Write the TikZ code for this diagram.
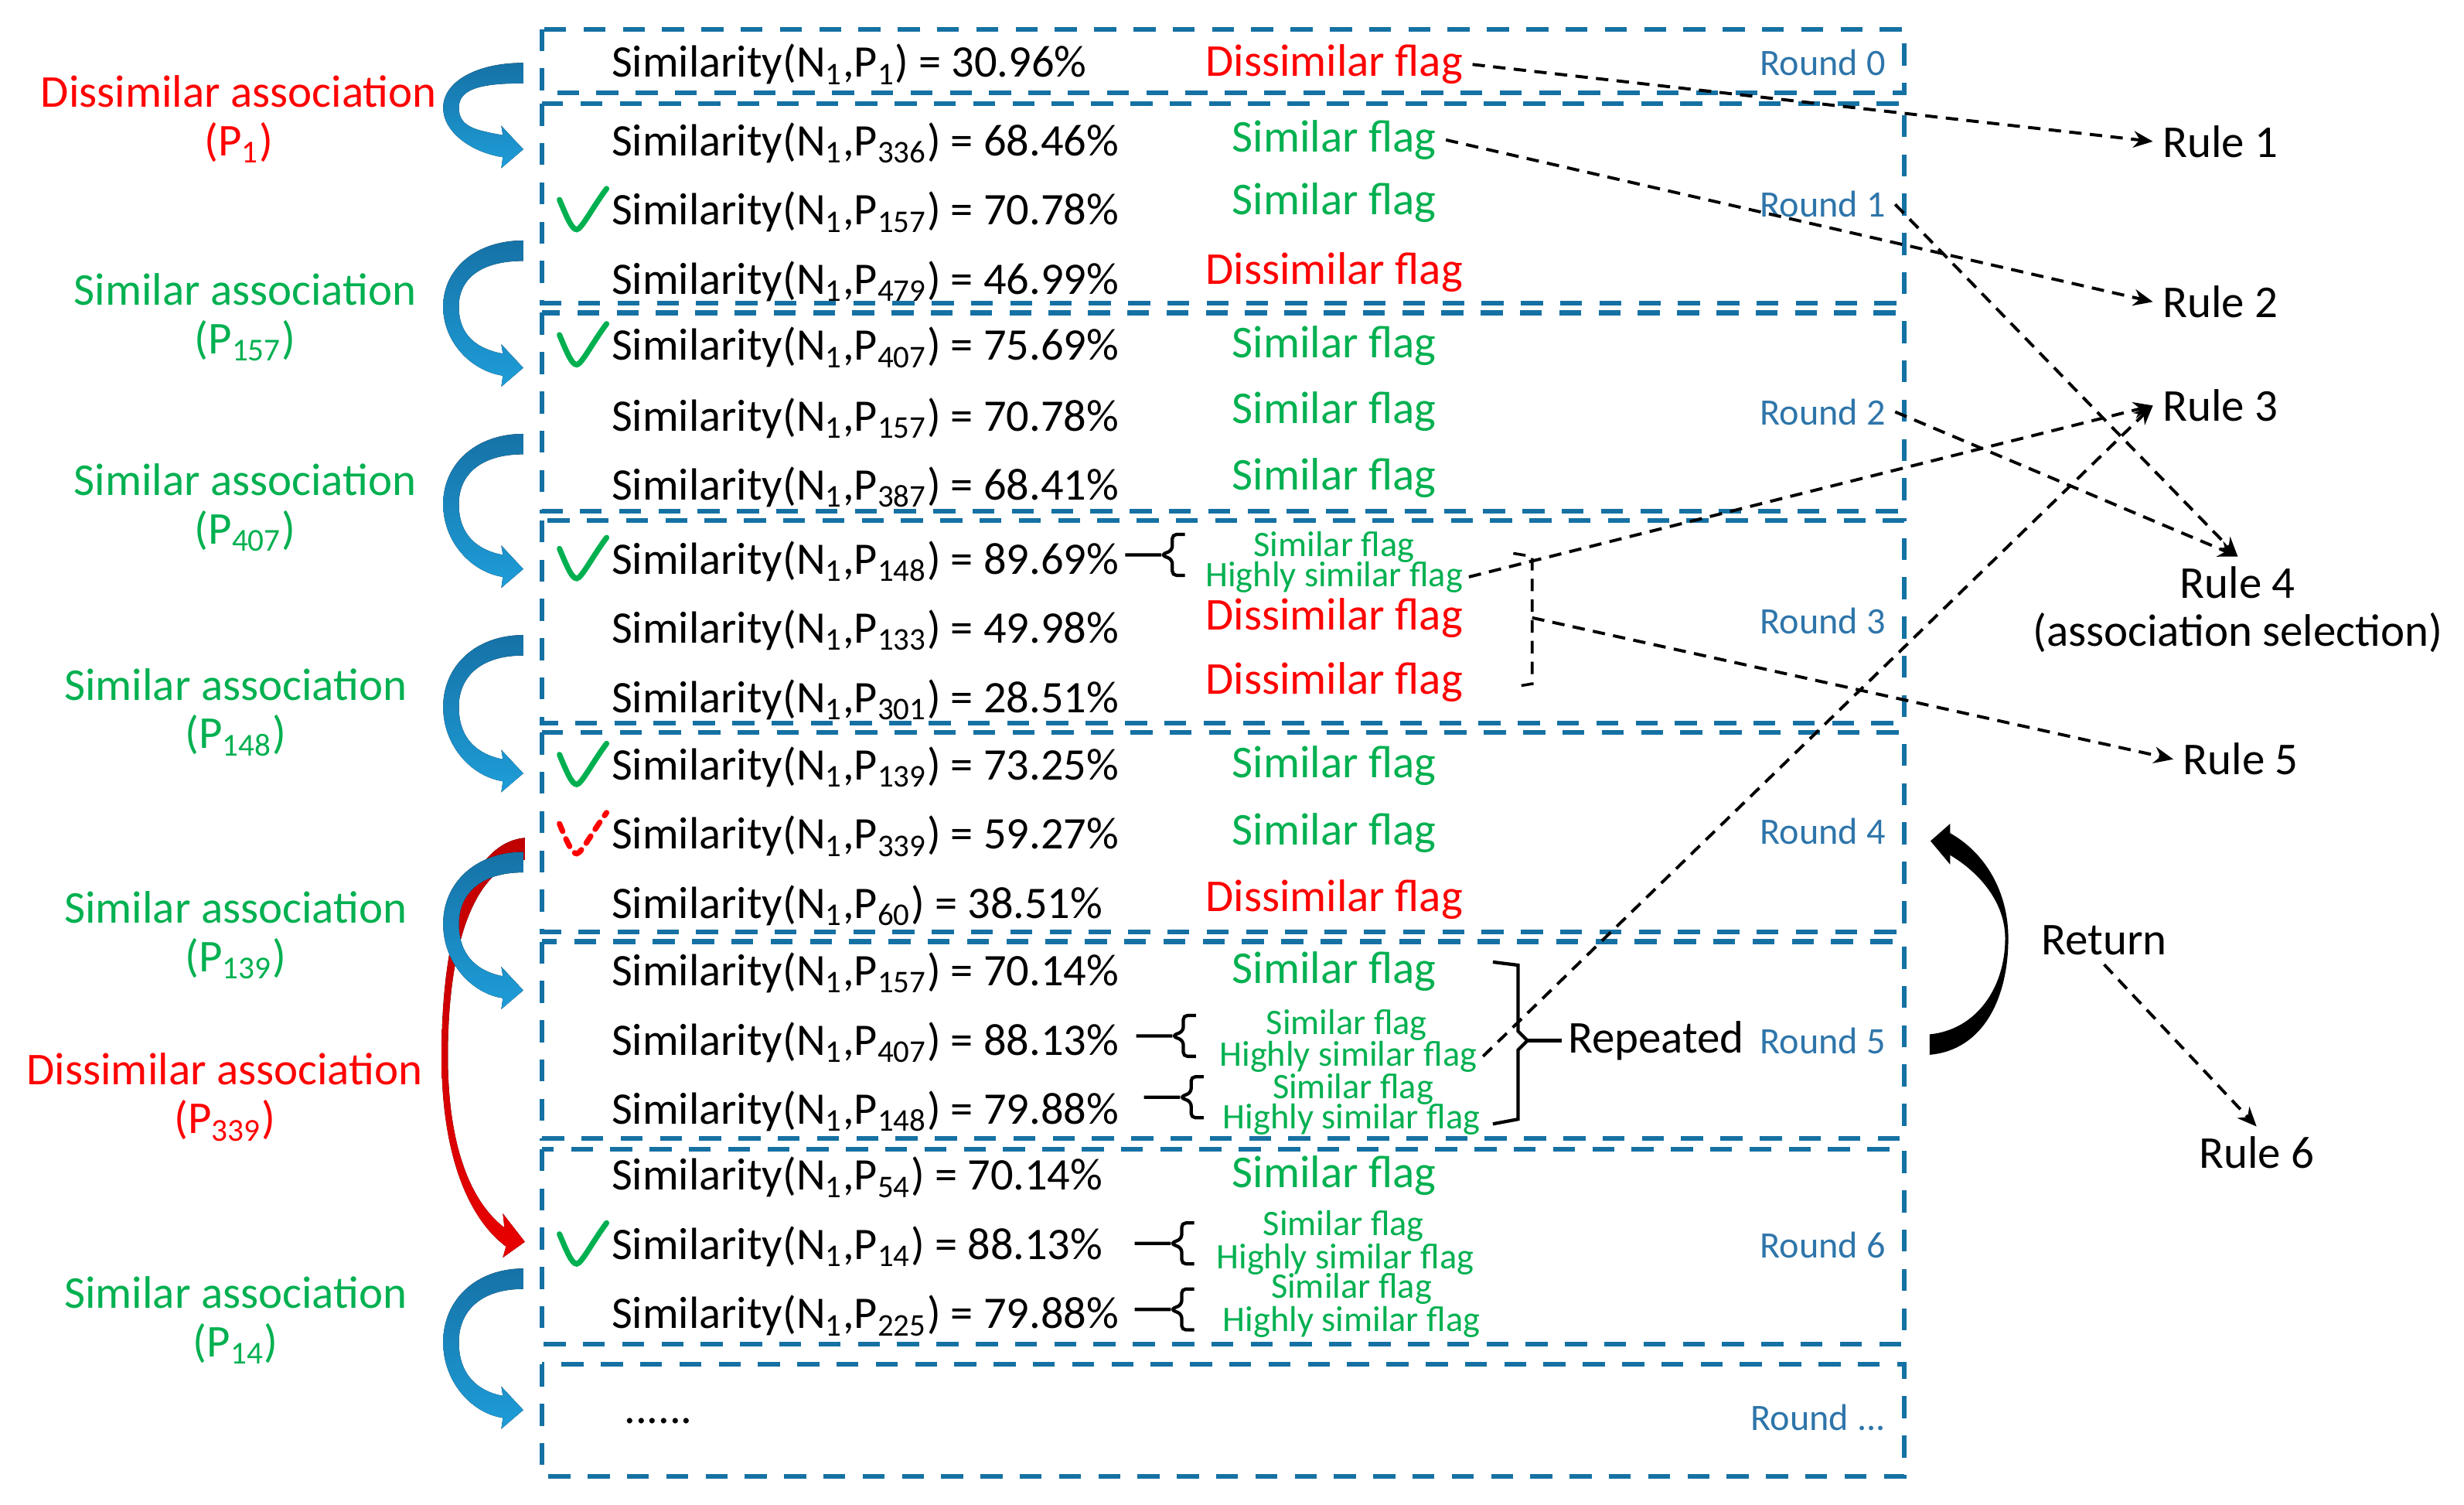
\documentclass[tikz,border=0pt]{standalone}
\usepackage{fontspec}
\setmainfont{Carlito}
\usetikzlibrary{arrows.meta}

\definecolor{boxblue}{RGB}{21,113,163}
\definecolor{roundblue}{RGB}{46,117,170}
\definecolor{simgreen}{RGB}{0,176,80}
\definecolor{dissred}{RGB}{255,0,0}
\definecolor{arrowtop}{RGB}{22,114,166}
\definecolor{arrowbot}{RGB}{30,157,216}
\definecolor{redtop}{RGB}{192,0,0}
\definecolor{redbot}{RGB}{232,0,0}

\newcommand{\simval}[2]{Similarity(N\textsubscript{1},P\textsubscript{#1}) = #2\%}

\tikzset{
  roundbox/.style={draw=boxblue, line width=1.7pt, dash pattern=on 0.28cm off 0.22cm},
  simrow/.style={anchor=west, font=\fontsize{16.35pt}{19pt}\selectfont},
  bigflag/.style={font=\fontsize{16.5pt}{19pt}\selectfont},
  simflag/.style={bigflag, text=simgreen},
  disflag/.style={bigflag, text=dissred},
  smallflag/.style={font=\fontsize{13pt}{15pt}\selectfont, text=simgreen, inner sep=2pt},
  roundlbl/.style={anchor=east, font=\fontsize{13.5pt}{16pt}\selectfont, text=roundblue},
  assoc/.style={align=center, font=\fontsize{16.5pt}{17.6pt}\selectfont},
  rulelbl/.style={font=\fontsize{16.5pt}{17.6pt}\selectfont},
  ruleline/.style={line width=1.1pt, dash pattern=on 4.5pt off 3pt, -{Stealth[length=7pt,width=6pt]}},
  flagbrace/.pic={\draw[line width=1.2pt, rounded corners=1.5pt] (0,0) -- (23,0) (38,-13) -- (30,-13) -- (30,-3) -- (23,0) -- (30,3) -- (30,13) -- (38,13);},
  chk/.pic={\draw[line width=2pt, line cap=round] (-16,-7) .. controls (-11,5) and (-8,12) .. (-5,12) .. controls (-2,12) and (5,-2) .. (14,-14);}
}

\begin{document}
\begin{tikzpicture}[x=0.02cm, y=-0.02cm]
\useasboundingbox (0,0) rectangle (1568,957);

\draw[roundbox] (345,18.5) rectangle (1212,59);
\draw[roundbox] (345,66) rectangle (1212,193);
\draw[roundbox] (345,199) rectangle (1212,325);
\draw[roundbox] (345,331) rectangle (1212,460);
\draw[roundbox] (345,466) rectangle (1212,593);
\draw[roundbox] (345,599) rectangle (1212,724);
\draw[roundbox] (345,731) rectangle (1212,855);
\draw[roundbox] (345,868) rectangle (1212,939);

\node[roundlbl] (rd0) at (1206,40) {Round 0};
\node[roundlbl] (rd1) at (1206,130) {Round 1};
\node[roundlbl] (rd2) at (1206,262) {Round 2};
\node[roundlbl] (rd3) at (1206,395) {Round 3};
\node[roundlbl] (rd4) at (1206,529) {Round 4};
\node[roundlbl] (rd5) at (1206,662) {Round 5};
\node[roundlbl] (rd6) at (1206,792) {Round 6};
\node[roundlbl] (rd7) at (1206,902) {Round ...};

\node[simrow] (s0) at (383,41) {\simval{1}{30.96}};
\node[simrow] (s11) at (383,91) {\simval{336}{68.46}};
\node[simrow] (s12) at (383,135) {\simval{157}{70.78}};
\node[simrow] (s13) at (383,179) {\simval{479}{46.99}};
\node[simrow] (s21) at (383,221) {\simval{407}{75.69}};
\node[simrow] (s22) at (383,266) {\simval{157}{70.78}};
\node[simrow] (s23) at (383,310) {\simval{387}{68.41}};
\node[simrow] (s31) at (383,357) {\simval{148}{89.69}};
\node[simrow] (s32) at (383,401) {\simval{133}{49.98}};
\node[simrow] (s33) at (383,445) {\simval{301}{28.51}};
\node[simrow] (s41) at (383,488) {\simval{139}{73.25}};
\node[simrow] (s42) at (383,532) {\simval{339}{59.27}};
\node[simrow] (s43) at (383,576) {\simval{60}{38.51}};
\node[simrow] (s51) at (383,619) {\simval{157}{70.14}};
\node[simrow] (s52) at (383,663) {\simval{407}{88.13}};
\node[simrow] (s53) at (383,707) {\simval{148}{79.88}};
\node[simrow] (s61) at (383,749) {\simval{54}{70.14}};
\node[simrow] (s62) at (383,793) {\simval{14}{88.13}};
\node[simrow] (s63) at (383,837) {\simval{225}{79.88}};
\node[simrow] (s7) at (391,904) {......};

\node[disflag] (f0) at (849,41) {Dissimilar flag};
\node[simflag] (f11) at (849,89) {Similar flag};
\node[simflag] (f12) at (849,129) {Similar flag};
\node[disflag] (f13) at (849,173) {Dissimilar flag};
\node[simflag] (f21) at (849,220) {Similar flag};
\node[simflag] (f22) at (849,262) {Similar flag};
\node[simflag] (f23) at (849,304) {Similar flag};
\node[smallflag] (h31a) at (849,348) {Similar flag};
\node[smallflag] (h31b) at (849,367) {Highly similar flag};
\node[disflag] (f32) at (849,393) {Dissimilar flag};
\node[disflag] (f33) at (849,434) {Dissimilar flag};
\node[simflag] (f41) at (849,487) {Similar flag};
\node[simflag] (f42) at (849,530) {Similar flag};
\node[disflag] (f43) at (849,572) {Dissimilar flag};
\node[simflag] (f51) at (849,618) {Similar flag};
\node[smallflag] (h52a) at (857,652) {Similar flag};
\node[smallflag] (h52b) at (858,672) {Highly similar flag};
\node[smallflag] (h53a) at (861,693) {Similar flag};
\node[smallflag] (h53b) at (860,712) {Highly similar flag};
\node[simflag] (f61) at (849,748) {Similar flag};
\node[smallflag] (h62a) at (855,780) {Similar flag};
\node[smallflag] (h62b) at (856,801) {Highly similar flag};
\node[smallflag] (h63a) at (860,820) {Similar flag};
\node[smallflag] (h63b) at (860,841) {Highly similar flag};

\pic at (716,353) {flagbrace};
\pic at (723,659) {flagbrace};
\pic at (728,698) {flagbrace};
\pic at (722,791) {flagbrace};
\pic at (722,833) {flagbrace};

\pic[color=simgreen] at (372,134) {chk};
\pic[color=simgreen] at (372,220) {chk};
\pic[color=simgreen] at (372,356) {chk};
\pic[color=simgreen] at (372,487) {chk};
\pic[color=simgreen] at (372,792) {chk};
\pic[color=dissred, dashed] at (372,531) {chk};

\node[assoc, text=dissred] (a1) at (152,76) {Dissimilar association\\(P\textsubscript{1})};
\node[assoc, text=simgreen] (a2) at (156,202) {Similar association\\(P\textsubscript{157})};
\node[assoc, text=simgreen] (a3) at (156,323) {Similar association\\(P\textsubscript{407})};
\node[assoc, text=simgreen] (a4) at (150,453) {Similar association\\(P\textsubscript{148})};
\node[assoc, text=simgreen] (a5) at (150,595) {Similar association\\(P\textsubscript{139})};
\node[assoc, text=dissred] (a6) at (143,698) {Dissimilar association\\(P\textsubscript{339})};
\node[assoc, text=simgreen] (a7) at (150,840) {Similar association\\(P\textsubscript{14})};

\fill[top color=redtop, bottom color=redbot] (334,533) .. controls (300,536) and (281,590) .. (281,672) .. controls (281,735) and (298,775) .. (322,793) -- (320,800) -- (334,790) -- (320,772) -- (321,781) .. controls (300,765) and (285,730) .. (285,672) .. controls (285,600) and (302,552) .. (334,547) -- cycle;

\foreach \t/\p in {40/95, 153/234, 276/362, 404/492, 542/630, 807/897}
  \fill[top color=arrowtop, bottom color=arrowbot] (333,\t) .. controls (303,\t) and (282,{\t+0.22*(\p-\t)}) .. (282,{\t+0.52*(\p-\t)}) .. controls (282,{\t+0.8*(\p-\t)}) and (300,\p+2) .. (320,\p+5) -- (319,\p+12) -- (333,\p) -- (319,\p-15) -- (320,\p-9) .. controls (304,\p-12) and (292,{\t+0.75*(\p-\t)}) .. (292,{\t+0.52*(\p-\t)}) .. controls (292,{\t+0.3*(\p-\t)}) and (306,\t+13) .. (333,\t+13) -- cycle;

\node[rulelbl, anchor=west] (rule1) at (1370,90) {Rule 1};
\node[rulelbl, anchor=west] (rule2) at (1370,192) {Rule 2};
\node[rulelbl, anchor=west] (rule3) at (1370,258) {Rule 3};
\node[rulelbl, anchor=north, align=center] (rule4) at (1424,354) {Rule 4\\(association selection)};
\node[rulelbl, anchor=west] (rule5) at (1383,483) {Rule 5};
\node[rulelbl] (ret) at (1339,598) {Return};
\node[rulelbl] (rule6) at (1436,733) {Rule 6};
\node[rulelbl, anchor=west, inner sep=2pt] (rep) at (994,662) {Repeated};

\draw[line width=1pt, dash pattern=on 4.5pt off 3pt] (963,352) -- (975,354) -- (975,435) -- (963,437);
\coordinate (b3) at (975,393);
\draw[line width=1.2pt] (950,612) -- (966,614) -- (966,656) -- (972,662) -- (966,668) -- (966,712) -- (950,715);
\coordinate (b5) at (972,662);
\draw[line width=1.2pt] (b5) -- (rep.west);

\fill (1228,671) .. controls (1262,668) and (1278,635) .. (1278,597) .. controls (1278,568) and (1264,543) .. (1241,530) -- (1241,524) -- (1228.5,535) -- (1241,550) -- (1241,544) .. controls (1261,556) and (1276,575) .. (1276,597) .. controls (1276,628) and (1258,655) .. (1228,658) -- cycle;

\draw[ruleline] (f0.east) -- (rule1.west);
\draw[ruleline] (f11.east) -- (rule2.west);
\draw[ruleline] (rd1.east) -- (rule4.north);
\draw[ruleline] (rd2.east) -- (rule4.north);
\draw[ruleline] (h31b.east) -- (rule3.west);
\draw[ruleline] (h52b.east) -- (rule3.west);
\draw[ruleline] (b3) -- (rule5.west);
\draw[ruleline] (ret.south) -- (rule6.north);

\end{tikzpicture}
\end{document}
